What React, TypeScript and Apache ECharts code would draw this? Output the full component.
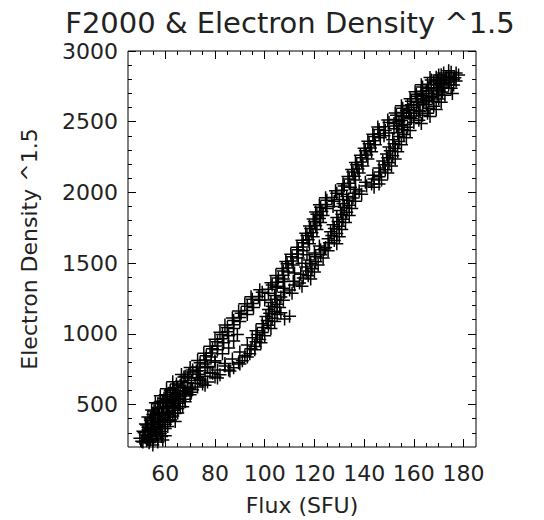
import React, { useEffect, useRef } from "react";
import * as echarts from "echarts";

// ---- data (flux in SFU, electron density ^1.5) ----
const upperBranch: number[][] = [
  [50.5,240],[52,265],[51.5,300],[53,320],[52.5,355],[54.5,370],[54,405],[56,420],[55.5,455],[57.5,470],
  [57,505],[59,525],[59.5,545],[61,570],[62,600],[63.5,620],[64.5,645],[66.5,665],[67.5,695],[69.5,715],
  [71,745],[73,765],[74,795],[76,815],[76.5,845],[78.5,865],[79,895],[81,915],[81,945],[83,965],
  [83,995],[85,1015],[85,1045],[87.5,1065],[87.5,1095],[90,1115],[90.5,1145],[93,1165],[93,1195],[95,1215],
  [95,1245],[97.5,1265],[99,1295],[101.5,1315],[103,1345],[105,1365],[105.5,1395],[107.5,1415],[107.5,1445],[109.5,1465],
  [109,1495],[111,1515],[111,1545],[113,1565],[113.5,1595],[115.5,1615],[115.5,1645],[117.5,1665],[117,1695],[119,1715],
  [118.5,1745],[120.5,1765],[120,1795],[122,1815],[121,1845],[123,1865],[122.5,1895],[124.5,1915],[125,1945],[127,1965],
  [129,1995],[131,2015],[132,2045],[134,2065],[134,2095],[136,2115],[135.5,2145],[137.5,2165],[137,2195],[139,2215],
  [139,2245],[141,2265],[140.5,2295],[142.5,2315],[142,2345],[144,2365],[144,2395],[146,2415],[146,2445],[148,2465],
  [150,2495],[153,2515],[153,2545],[155,2565],[155.5,2595],[157.5,2615],[159,2645],[161,2665],[161,2695],[163,2715],
  [163.5,2745],[165.5,2765],[167,2795],[169,2815],[172,2845],[174,2860]
];

const upperSpread: number[][] = [
  [49.8,262],[53.5,287],[51,312],[55,337],[52,362],[56,387],[53,412],[57.5,437],[54.5,462],[59,487],
  [56,512],[60.5,537],[58,562],[63,587],[60.5,612],[66,637],[63,662],[69,687],[66.5,712],[72.5,737],
  [70,762],[76,787],[73,812],[78.5,837],[75.5,862],[81,887],[78,912],[83.5,937],[80,962],[85.5,987],
  [82,1012],[87.5,1037],[84,1062],[90,1087],[87,1112],[93,1137],[89.5,1162],[95.5,1187],[92,1212],[98,1237],
  [94.5,1262],[101.5,1287],[98,1312],[105,1337],[102.5,1362],[107.5,1387],[104.5,1412],[109.5,1437],[107,1462],[111.5,1487],
  [108.5,1512],[113.5,1537],[110.5,1562],[115.5,1587],[113,1612],[118,1637],[115,1662],[119.5,1687],[116.5,1712],[121,1737],
  [118,1762],[122.5,1787],[119.5,1812],[123.5,1837],[120.5,1862],[125,1887],[122,1912],[128,1937],[124.5,1962],[131.5,1987],
  [128.5,2012],[134.5,2037],[131.5,2062],[136.5,2087],[133.5,2112],[138,2137],[135,2162],[139.5,2187],[136.5,2212],[141.5,2237],
  [138.5,2262],[143,2287],[140,2312],[144.5,2337],[141.5,2362],[146.5,2387],[143.5,2412],[148.5,2437],[145.5,2462],[152,2487],
  [149.5,2512],[155.5,2537],[152.5,2562],[158,2587],[155,2612],[161.5,2637],[158.5,2662],[163.5,2687],[160.5,2712],[166,2737],
  [163,2762],[169.5,2787],[166.5,2812],[171,2832],[170,2800]
];

const lowerBranch: number[][] = [
  [55,215],[57,235],[56.5,290],[58.5,310],[58,345],[60,360],[60,395],[62,410],[61.5,445],[63.5,460],
  [63.5,495],[65.5,510],[65.5,545],[67.5,560],[68,595],[70,610],[75,645],[77,660],[80,695],[82,710],
  [85.5,745],[87.5,760],[89.5,795],[91,810],[92,845],[94,860],[94.5,895],[96,910],[96.5,945],[98,960],
  [97,995],[99,1010],[99.5,1045],[101.5,1060],[101,1095],[103,1110],[102,1145],[104,1160],[103,1195],[105,1210],
  [104.5,1245],[106.5,1260],[108,1295],[110,1310],[112,1345],[114,1360],[115.5,1395],[117.5,1410],[117,1445],[119,1460],
  [118.5,1495],[120.5,1510],[120.5,1545],[122.5,1560],[122.5,1595],[124.5,1610],[126,1645],[128,1660],[127,1695],[129,1710],
  [128,1745],[130,1760],[129.5,1795],[131.5,1810],[131,1845],[133,1860],[132,1895],[134,1910],[133.5,1945],[135.5,1960],
  [136,1995],[138,2010],[141,2045],[143,2060],[144,2095],[146,2110],[146.5,2145],[148.5,2160],[148,2195],[150,2210],
  [149.5,2245],[151.5,2260],[150.5,2295],[152.5,2310],[152,2345],[154,2360],[154,2395],[156,2410],[155.5,2445],[157.5,2460],
  [160,2495],[162,2510],[163.5,2545],[165.5,2560],[166,2595],[168,2610],[168,2645],[170,2660],[169.5,2695],[171.5,2710],
  [172,2745],[174,2760],[174.5,2795],[176.5,2810],[177,2845],[178,2830]
];

const lowerSpread: number[][] = [
  [54,250],[58.5,275],[55.5,325],[60,330],[57,372],[62,385],[59,422],[64,437],[60.5,472],[66,487],
  [62.5,522],[68,537],[64.5,572],[70.5,587],[67,622],[76,637],[74,672],[81,687],[79,722],[86,737],
  [84,772],[90,787],[87,822],[93,837],[90,872],[96,887],[93,922],[98.5,937],[95,972],[100,987],
  [96.5,1022],[102.5,1037],[99,1072],[104,1087],[100.5,1122],[105,1137],[101.5,1172],[106,1187],[102.5,1222],[107.5,1237],
  [104,1272],[111,1287],[107.5,1322],[115,1337],[111.5,1372],[118.5,1387],[114.5,1422],[120,1437],[116.5,1472],[121.5,1487],
  [118,1522],[123.5,1537],[120,1572],[125.5,1587],[122,1622],[129,1637],[125.5,1672],[130,1687],[126.5,1722],[131,1737],
  [127.5,1772],[132.5,1787],[129,1822],[134,1837],[130.5,1872],[135,1887],[131.5,1922],[136.5,1937],[133,1972],[139,1987],
  [136.5,2022],[144,2037],[140.5,2072],[147,2087],[143.5,2122],[149.5,2137],[146,2172],[151,2187],[147.5,2222],[152.5,2237],
  [149,2272],[153.5,2287],[150,2322],[155,2337],[151.5,2372],[157,2387],[153.5,2422],[158.5,2437],[155,2472],[163,2487],
  [159,2522],[166.5,2537],[162.5,2572],[169,2587],[165,2622],[171,2637],[167.5,2672],[172.5,2687],[169,2722],[175,2737],
  [172,2772],[177,2787],[174,2822]
];

// points lying between the two branches where the loop closes up
const coreFill: number[][] = [
  [53.5,230],[54.5,280],[55.5,330],[57,380],[58.5,430],[60.5,480],[62.5,530],[65,580],[67.5,625],[70.5,670],
  [73.5,715],[77,760],[80,800],[52.5,245],[56,300],[57.5,355],[59,405],[61,455],[63,505],[66,555],
  [77,770],[80,810],[83,860],[85.5,900],[87.5,950],[89,995],[68,700],[71,730],[74,740],
  [72,650],[74,680],[76,700],[69,655],[73,690],[78,725],[81,745],[84,790],
  [104.5,1330],[108,1370],[112,1430],[115,1500],[117,1560],[127.5,1900],[130,1950],
  [156,2480],[158.5,2530],[161,2580],[163.5,2625],[166,2670],[168,2720],[170.5,2770],[173,2810],[175,2850],
  [160,2560],[165,2650],[171,2740]
];

// the crowded low-flux end of the cloud
const lowFluxCluster: number[][] = [
  [51,235],[53,255],[55,245],[57,260],[59,250],[52,285],[54,310],[56,275],[58,295],[60,280],
  [53,340],[55,360],[57,340],[59,330],[61,345],[54,390],[56,400],[58,380],[60,375],[62,395],
  [64,380],[55,430],[57,445],[59,425],[61,430],[63,420],[65,440],[57,480],[59,470],[61,490],
  [63,480],[65,470],[67,485],[58,520],[60,530],[62,515],[64,540],[66,525],[68,520],[60,570],
  [62,555],[64,575],[66,560],[68,580],[70,570],[63,610],[65,620],[67,600],[69,615],[71,605],[73,625]
];

// the crowded high-flux end of the cloud
const highFluxCluster: number[][] = [
  [160,2600],[162,2620],[164,2640],[158,2560],[156,2540],[157,2580],[159,2620],[161,2680],[163,2700],[165,2720],
  [167,2740],[169,2760],[171,2790],[173,2800],[170,2830],[168,2780],[166,2700],[164,2660],[162,2580],[160,2540],
  [154,2500],[152,2450],[150,2420],[148,2400],[153,2470],[155,2510],[174,2780],[176,2800],[172,2770],[170,2720],[167,2680]
];

const strayPoints: number[][] = [
  [110,1125],[108,1105],[106.5,1150],[175.5,2700],[176,2760],[146,2060],[124,1600],[100,1240]
];

// ---- axes ----
const xRange = [45, 185];
const yRange = [200, 3000];
const xMajorTicks = [60, 80, 100, 120, 140, 160, 180];
const xMinorTicks = [50, 55, 65, 70, 75, 85, 90, 95, 105, 110, 115, 125, 130, 135, 145, 150, 155, 165, 170, 175];
const yMajorTicks = [500, 1000, 1500, 2000, 2500, 3000];
const yMinorTicks = [300, 400, 600, 700, 800, 900, 1100, 1200, 1300, 1400, 1600, 1700, 1800, 1900,
  2100, 2200, 2300, 2400, 2600, 2700, 2800, 2900];

const titleText = "F2000 & Electron Density ^1.5";
const xName = "Flux (SFU)";
const yName = "Electron Density ^1.5";

const FONT = "DejaVu Sans";
const TEXT = "#222";

const GRID = { left: 128, right: 68, top: 51, bottom: 73 };

function xAxisDef(position: string, ticks: number[], len: number, labels: boolean) {
  return {
    type: "value",
    position,
    min: xRange[0],
    max: xRange[1],
    axisLine: { show: false },
    splitLine: { show: false },
    axisTick: { show: true, inside: true, length: len, customValues: ticks, lineStyle: { color: "#000", width: 1 } },
    axisLabel: labels
      ? { show: true, customValues: ticks, margin: 15, color: TEXT, fontSize: 22, fontFamily: FONT,
          formatter: (v: number) => String(v) }
      : { show: false },
  };
}

function yAxisDef(position: string, ticks: number[], len: number, labels: boolean) {
  return {
    type: "value",
    position,
    min: yRange[0],
    max: yRange[1],
    axisLine: { show: false },
    splitLine: { show: false },
    axisTick: { show: true, inside: true, length: len, customValues: ticks, lineStyle: { color: "#000", width: 1 } },
    axisLabel: labels
      ? { show: true, customValues: ticks, margin: 10, color: TEXT, fontSize: 22, fontFamily: FONT,
          formatter: (v: number) => String(v) }
      : { show: false },
  };
}

const PLUS = "path://M0,6.5L13,6.5M6.5,0L6.5,13";

function scatter(data: number[][]) {
  return {
    type: "scatter",
    xAxisIndex: 0,
    yAxisIndex: 0,
    data,
    symbol: PLUS,
    symbolSize: 13,
    silent: true,
    itemStyle: { color: "rgba(0,0,0,0)", borderColor: "#000", borderWidth: 1.5, opacity: 1 },
  };
}

export default function App() {
  const ref = useRef<HTMLDivElement>(null);
  useEffect(() => {
    if (!ref.current) return;
    const chart = echarts.init(ref.current, null, { renderer: "svg" });
    chart.setOption({
      animation: false,
      backgroundColor: "#fff",
      grid: { ...GRID, show: true, borderColor: "#000", borderWidth: 1, backgroundColor: "transparent" },
      xAxis: [
        xAxisDef("bottom", xMajorTicks, 8, true),
        xAxisDef("bottom", xMinorTicks, 4, false),
        xAxisDef("top", xMajorTicks, 8, false),
        xAxisDef("top", xMinorTicks, 4, false),
      ],
      yAxis: [
        yAxisDef("left", yMajorTicks, 8, true),
        yAxisDef("left", yMinorTicks, 4, false),
        yAxisDef("right", yMajorTicks, 8, false),
        yAxisDef("right", yMinorTicks, 4, false),
      ],
      series: [
        scatter(upperBranch),
        scatter(upperSpread),
        scatter(lowerBranch),
        scatter(lowerSpread),
        scatter(coreFill),
        scatter(lowFluxCluster),
        scatter(highFluxCluster),
        scatter(strayPoints),
      ],
      graphic: [
        {
          type: "text",
          x: 290,
          y: 23,
          style: { text: titleText, fill: TEXT, font: `29px "${FONT}"`, textAlign: "center", textVerticalAlign: "middle" },
        },
        {
          type: "text",
          x: 302,
          y: 505,
          style: { text: xName, fill: TEXT, font: `22px "${FONT}"`, textAlign: "center", textVerticalAlign: "middle" },
        },
        {
          type: "text",
          x: 29,
          y: 249,
          rotation: Math.PI / 2,
          style: { text: yName, fill: TEXT, font: `22px "${FONT}"`, textAlign: "center", textVerticalAlign: "middle" },
        },
      ],
    });
    return () => chart.dispose();
  }, []);
  return <div ref={ref} style={{ position: "fixed", left: 0, top: 0, width: 544, height: 520 }} />;
}
